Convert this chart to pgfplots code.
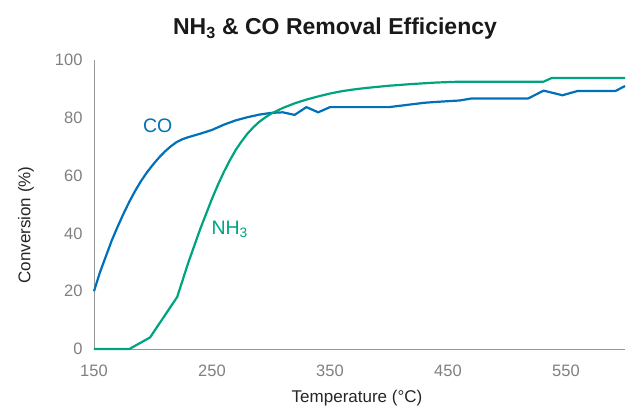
\documentclass[border=0pt]{standalone}
\usepackage{fontspec}
\setmainfont{Liberation Sans}
\usepackage{pgfplots}
\pgfplotsset{compat=1.18}
\definecolor{coblue}{RGB}{0,112,184}
\definecolor{nhgreen}{RGB}{0,163,127}
\definecolor{tickgray}{RGB}{128,128,128}
\definecolor{axgray}{RGB}{150,150,150}
\begin{document}
\begin{tikzpicture}
\useasboundingbox (-94pt,-59pt) rectangle (534pt,349pt);
\begin{axis}[
  at={(0,0)}, anchor=south west,
  scale only axis, width=531pt, height=289pt,
  xmin=150, xmax=600, ymin=0, ymax=100,
  axis x line=bottom, axis y line=left,
  axis line style={-, draw=axgray, line width=0.9pt},
  xtick={150,250,350,450,550}, ytick={0,20,40,60,80,100},
  major tick length=0pt,
  tick label style={font=\fontsize{16.5}{18}\selectfont, text=tickgray},
  xticklabel style={yshift=-12pt},
  yticklabel style={xshift=-8pt},
  /pgf/number format/assume math mode=true,
  clip=false,
]
\addplot[coblue, line width=2.2pt, line join=round] coordinates {
(150,20) (155,26.5) (160,32) (165,37.5) (170,42.3) (175,46.8) (180,51) (185,54.8) (190,58.2) (195,61.2) (200,63.8) (205,66.2) (210,68.3) (215,70.1) (220,71.6) (225,72.6) (230,73.3) (240,74.5) (250,75.8) (260,77.6) (270,79.1) (280,80.2) (290,81.1) (300,81.7) (310,81.9) (320,81.0) (330,83.7) (340,81.9) (350,83.7) (360,83.7) (370,83.7) (380,83.7) (390,83.7) (400,83.7) (410,84.2) (420,84.7) (430,85.2) (440,85.5) (460,86.0) (470,86.7) (480,86.7) (500,86.7) (518,86.7) (531,89.4) (547,87.8) (560,89.3) (592,89.3) (600,91.0)
};
\addplot[nhgreen, line width=2.2pt, line join=round] coordinates {
(150,0) (180,0) (197.5,4) (220.5,18) (230,30) (240,41.5) (250,52) (255,56.8) (260,61.2) (265,65.2) (270,68.8) (275,71.8) (280,74.5) (285,76.7) (290,78.6) (295,80.1) (300,81.4) (310,83.4) (320,85.0) (330,86.3) (340,87.4) (350,88.4) (360,89.2) (370,89.8) (380,90.3) (400,91.1) (420,91.7) (440,92.2) (460,92.5) (531,92.5) (538,93.8) (600,93.8)
};
\node[text=coblue, font=\fontsize{19.5}{22}\selectfont] at (axis cs:204,77.3) {CO};
\node[text=nhgreen, font=\fontsize{19.5}{22}\selectfont] at (axis cs:265,41.5) {NH\textsubscript{3}};
\end{axis}
\node[font=\fontsize{23}{26}\selectfont\bfseries, text=black!90] at (241pt,320pt) {NH\textsubscript{3} \& CO Removal Efficiency};
\node[font=\fontsize{17}{20}\selectfont, text=black!85] at (263pt,-49pt) {Temperature (°C)};
\node[font=\fontsize{17}{20}\selectfont, text=black!85, rotate=90] at (-68pt,124pt) {Conversion (\%)};
\end{tikzpicture}
\end{document}
